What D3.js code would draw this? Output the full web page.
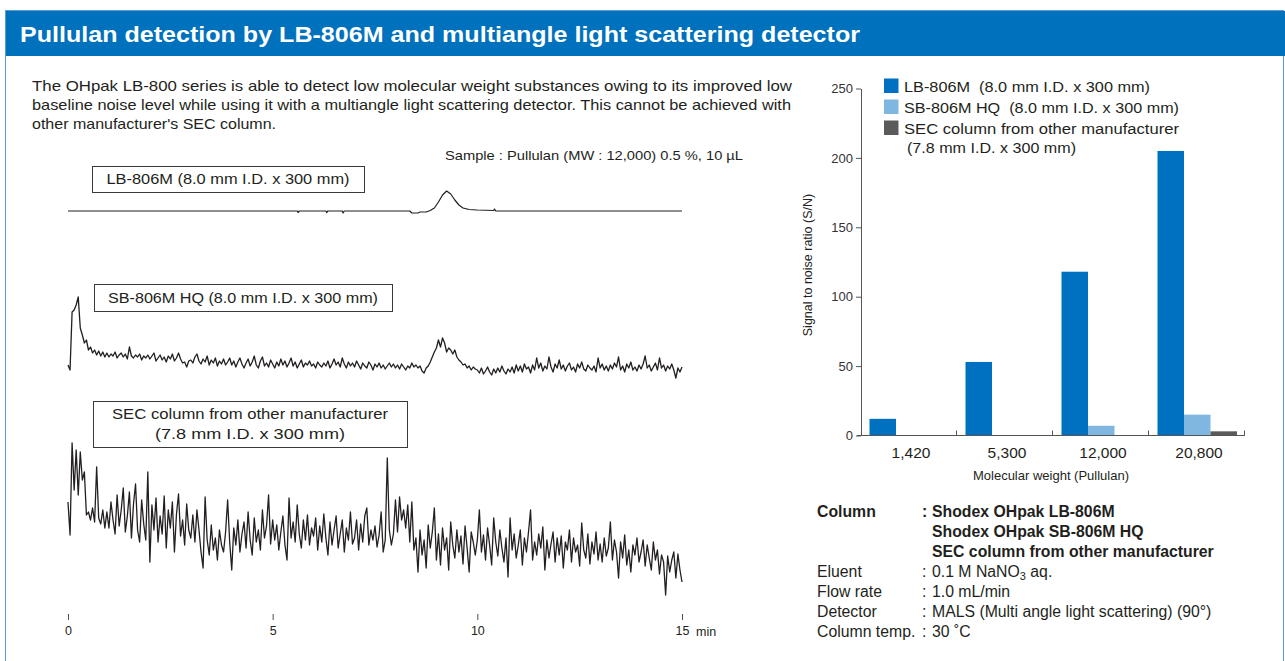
<!DOCTYPE html>
<html><head><meta charset="utf-8">
<script src="https://cdn.jsdelivr.net/npm/d3@7"></script>
<style>
html,body{margin:0;padding:0;background:#fff;}
svg{display:block;font-family:"Liberation Sans",Arial,Helvetica,sans-serif;}
</style>
</head><body>
<svg id="c" width="1285" height="661"></svg>
<script>
// ---------------- DATA ----------------
const titleText = "Pullulan detection by LB-806M and multiangle light scattering detector";
const paragraphLines = [
  "The OHpak LB-800 series is able to detect low molecular weight substances owing to its improved low",
  "baseline noise level while using it with a multiangle light scattering detector. This cannot be achieved with",
  "other manufacturer's SEC column."
];
const sampleText = "Sample : Pullulan (MW : 12,000) 0.5 %, 10 µL";
const lbLabel = ["LB-806M (8.0 mm I.D. x 300 mm)"];
const sbLabel = ["SB-806M HQ (8.0 mm I.D. x 300 mm)"];
const secLabel = ["SEC column from other manufacturer", "(7.8 mm I.D. x 300 mm)"];
const timeTicks = [0, 5, 10, 15];
const timeUnit = "min";

// LB-806M trace (time in min, relative intensity)
const lbTimes  = [0, 5.6, 5.62, 5.65, 6.3, 6.32, 6.35, 6.7, 6.72, 6.75, 8.35, 8.4, 8.55, 8.6, 8.75, 8.85, 8.95, 9.05, 9.15, 9.25, 9.35, 9.45, 9.55, 9.65, 9.8, 10.0, 10.4, 10.42, 10.45, 15];
const lbValues = [0, 0, -1.5, 0, 0, -1.5, 0, 0, -2, 0, 0, -2, -2, -1, -1, 0.5, 3, 9, 16, 20, 17, 11, 6, 3, 1.5, 1, 0.5, 2, 0, 0];

const noiseStep = 0.05;
// SB-806M HQ trace, relative intensity, one value every 0.05 min from 0 to 15 min
const sbValues = [
  15, 10, 68, 70, 75, 83, 52, 45, 37, 40, 30, 33, 27, 30, 25, 29, 24, 28, 23, 27,
  23, 26, 24, 28, 22, 25, 27, 23, 26, 21, 33, 24, 22, 25, 23, 26, 20, 24, 22, 25,
  21, 24, 27, 19, 22, 25, 20, 23, 18, 24, 21, 26, 19, 22, 27, 21, 17, 18, 13, 19,
  20, 17, 23, 26, 19, 16, 21, 18, 24, 15, 20, 17, 22, 14, 19, 16, 21, 15, 18, 22,
  15, 19, 13, 18, 22, 16, 12, 17, 21, 14, 18, 24, 15, 12, 19, 23, 14, 17, 13, 20,
  16, 12, 18, 14, 21, 15, 19, 13, 17, 22, 14, 18, 12, 16, 20, 13, 17, 15, 19, 14,
  16, 12, 18, 15, 13, 17, 14, 19, 12, 16, 21, 15, 18, 13, 22, 16, 12, 18, 14, 17,
  13, 19, 15, 11, 17, 14, 12, 18, 15, 10, 16, 13, 17, 12, 15, 11, 14, 17, 13, 16,
  12, 15, 11, 16, 13, 10, 14, 12, 17, 13, 15, 12, 14, 9, 7, 12, 14, 18, 23, 28,
  32, 40, 33, 42, 37, 28, 32, 30, 26, 30, 23, 20, 18, 15, 16, 12, 14, 10, 13, 11,
  10, 7, 12, 6, 9, 13, 8, 5, 11, 7, 12, 8, 14, 9, 6, 11, 8, 13, 7, 15,
  9, 14, 8, 16, 11, 13, 7, 15, 10, 22, 12, 17, 9, 14, 11, 23, 13, 8, 16, 12,
  20, 11, 15, 9, 14, 17, 10, 13, 8, 16, 12, 18, 11, 9, 15, 12, 10, 14, 8, 22,
  12, 16, 10, 14, 9, 15, 11, 17, 13, 23, 10, 14, 8, 16, 12, 18, 10, 13, 9, 15,
  11, 16, 24, 12, 15, 9, 13, 17, 10, 22, 12, 15, 9, 14, 11, 16, 10, 2, 12, 8,
  13
];
// SEC column from other manufacturer, relative intensity, every 0.05 min
const secValues = [
  98, 65, 157, 110, 150, 105, 148, 120, 128, 85, 88, 80, 92, 78, 133, 82, 76, 90, 72, 88,
  72, 98, 80, 66, 105, 74, 90, 112, 68, 84, 108, 62, 96, 116, 70, 58, 100, 76, 60, 128,
  38, 95, 70, 102, 58, 84, 66, 104, 52, 90, 72, 98, 48, 86, 106, 64, 80, 55, 96, 70,
  62, 85, 58, 90, 70, 48, 32, 103, 60, 45, 75, 50, 62, 40, 70, 55, 48, 68, 100, 58,
  30, 72, 55, 80, 48, 66, 78, 52, 88, 60, 45, 82, 58, 70, 50, 90, 62, 74, 105, 56,
  80, 60, 75, 50, 68, 84, 55, 40, 102, 62, 78, 58, 95, 66, 52, 80, 60, 85, 55, 72,
  64, 82, 50, 74, 58, 86, 62, 45, 78, 55, 70, 84, 52, 66, 80, 48, 72, 60, 88, 56,
  62, 80, 50, 76, 58, 84, 92, 55, 70, 60, 74, 53, 65, 88, 48, 60, 142, 70, 55, 66,
  100, 68, 103, 80, 90, 72, 95, 58, 98, 50, 62, 28, 70, 45, 60, 32, 75, 52, 68, 92,
  40, 66, 35, 72, 50, 62, 30, 78, 55, 42, 70, 48, 64, 36, 74, 52, 28, 68, 58, 45,
  60, 90, 48, 65, 40, 72, 55, 35, 82, 58, 44, 70, 52, 38, 62, 23, 82, 50, 66, 42,
  55, 70, 35, 62, 48, 68, 90, 40, 58, 45, 66, 52, 73, 30, 60, 42, 56, 68, 38, 62,
  45, 64, 32, 58, 50, 70, 38, 62, 48, 55, 34, 77, 50, 42, 66, 36, 58, 46, 68, 40,
  56, 38, 62, 44, 52, 78, 40, 60, 48, 22, 58, 42, 65, 35, 50, 28, 55, 45, 62, 38,
  48, 60, 34, 55, 42, 30, 58, 40, 50, 26, 45, 38, 5, 44, 28, 40, 48, 22, 46, 30,
  18
];

// Bar chart: signal to noise ratio
const categories = ["1,420", "5,300", "12,000", "20,800"];
const seriesKeys = ["LB", "SB", "SEC"];
const legendLabels = ["LB-806M  (8.0 mm I.D. x 300 mm)", "SB-806M HQ  (8.0 mm I.D. x 300 mm)", "SEC column from other manufacturer"];
const legendSubLabel = "(7.8 mm I.D. x 300 mm)";
const lbSN  = [12, 53, 118, 205];
const sbSN  = [0, 0, 7, 15];
const secSN = [0, 0, 0, 3];
const snTicks = [0, 50, 100, 150, 200, 250];
const yTitle = "Signal to noise ratio (S/N)";
const xTitle = "Molecular weight (Pullulan)";

// Conditions
const condLabels = ["Column", "", "", "Eluent", "Flow rate", "Detector", "Column temp."];
const condValues = ["Shodex OHpak LB-806M", "Shodex OHpak SB-806M HQ", "SEC column from other manufacturer",
                    "0.1 M NaNO_3_ aq.", "1.0 mL/min", "MALS (Multi angle light scattering) (90°)", "30 ˚C"];
const condBold = [true, true, true, false, false, false, false];

// ---------------- DRAW ----------------
const ink = "#231f20";
const blue = "#0071bc";
const colors = {LB: "#0071c1", SB: "#7fb7e0", SEC: "#5a5a5a"};
const svg = d3.select("#c");

// frame + header
svg.append("rect").attr("x", 5.5).attr("y", 10.5).attr("width", 1278).attr("height", 700)
  .attr("fill", "none").attr("stroke", "#5a9ad6").attr("stroke-width", 1);
svg.append("rect").attr("x", 6).attr("y", 11).attr("width", 1279).attr("height", 45).attr("fill", blue);
svg.append("text").attr("x", 20).attr("y", 42).text(titleText)
  .attr("fill", "#fff").attr("font-weight", "bold").attr("font-size", 21.5)
  .attr("textLength", 840).attr("lengthAdjust", "spacingAndGlyphs");

// paragraph
const paraY = [91, 110, 128.5], paraW = [760, 759, 244];
svg.append("g").selectAll("text").data(paragraphLines).join("text")
  .attr("x", 32).attr("y", (d, i) => paraY[i]).text(d => d)
  .attr("fill", ink).attr("font-size", 14.5)
  .attr("textLength", (d, i) => paraW[i]).attr("lengthAdjust", "spacingAndGlyphs");

svg.append("text").attr("x", 445).attr("y", 160).text(sampleText)
  .attr("fill", ink).attr("font-size", 13.5).attr("textLength", 298).attr("lengthAdjust", "spacingAndGlyphs");

// chromatograms
const xT = d3.scaleLinear().domain([0, 15]).range([68, 682]);
const yLB = d3.scaleLinear().domain([0, 20]).range([211, 191]);
const ySB = d3.scaleLinear().domain([0, 100]).range([380, 280]);
const ySEC = d3.scaleLinear().domain([0, 100]).range([600, 500]);

const lbData = lbTimes.map((t, i) => [t, lbValues[i]]);
const sbData = sbValues.map((v, i) => [i * noiseStep, v]);
const secData = secValues.map((v, i) => [i * noiseStep, v]);

function trace(data, ys, w) {
  svg.append("path").datum(data)
    .attr("d", d3.line().x(d => xT(d[0])).y(d => ys(d[1])))
    .attr("fill", "none").attr("stroke", ink).attr("stroke-width", w).attr("stroke-linejoin", "round");
}
trace(lbData, yLB, 1.2);
trace(sbData, ySB, 1.3);
trace(secData, ySEC, 1.3);

function labelBox(lines, x, y, w, h, widths) {
  const g = svg.append("g");
  g.append("rect").attr("x", x + 0.5).attr("y", y + 0.5).attr("width", w).attr("height", h)
    .attr("fill", "#fff").attr("stroke", "#3a3a3a").attr("stroke-width", 1);
  const n = lines.length;
  g.selectAll("text").data(lines).join("text")
    .attr("x", x + w / 2).attr("y", (d, i) => y + h / 2 + 5 + (i - (n - 1) / 2) * 20)
    .attr("text-anchor", "middle").attr("fill", ink).attr("font-size", 14.5).text(d => d)
    .attr("textLength", (d, i) => widths[i]).attr("lengthAdjust", "spacingAndGlyphs");
}
labelBox(lbLabel, 92, 166, 272, 26, [243]);
labelBox(sbLabel, 94, 284, 298, 27, [270]);
labelBox(secLabel, 93, 401, 314, 46, [276, 190]);

// time axis
const tAxis = d3.axisBottom(xT).tickValues(timeTicks).tickSize(6).tickPadding(6).tickFormat(d3.format("d"));
const gT = svg.append("g").attr("transform", "translate(0,614)").call(tAxis);
gT.select(".domain").remove();
gT.selectAll("line").attr("stroke", ink).attr("stroke-width", 0.8);
gT.selectAll("text").attr("font-size", 12.5).attr("fill", ink).attr("font-family", null);
svg.append("text").attr("x", xT(15) + 14).attr("y", 635.5).text(timeUnit)
  .attr("font-size", 12.5).attr("fill", ink);

// bar chart
const x0 = d3.scaleBand().domain(categories).range([861, 1245]).padding(0);
const x1 = d3.scaleBand().domain(seriesKeys).range([8.5, 88]).padding(0);
const ySN = d3.scaleLinear().domain([0, 250]).range([435.5, 88.5]);
const snSeries = {LB: lbSN, SB: sbSN, SEC: secSN};

const barRows = categories.map((c, i) => ({cat: c, vals: seriesKeys.map(k => ({key: k, value: snSeries[k][i]}))}));
svg.append("g").selectAll("g").data(barRows).join("g")
  .attr("transform", d => `translate(${x0(d.cat)},0)`)
  .selectAll("rect").data(d => d.vals.filter(v => v.value > 0)).join("rect")
  .attr("x", d => x1(d.key)).attr("width", x1.bandwidth())
  .attr("y", d => ySN(d.value)).attr("height", d => ySN(0) - ySN(d.value))
  .attr("fill", d => colors[d.key]);

const yAx = d3.axisLeft(ySN).tickValues(snTicks).tickSize(5).tickSizeOuter(0).tickPadding(3);
const gY = svg.append("g").attr("transform", "translate(861,0)").call(yAx);
gY.select(".domain").attr("stroke", "#555");
gY.selectAll("line").attr("stroke", "#555");
gY.selectAll("text").attr("font-size", 13).attr("fill", "#333").attr("font-family", null);

// x axis line + group boundary ticks
svg.append("line").attr("x1", 857).attr("x2", 1245).attr("y1", 435.5).attr("y2", 435.5).attr("stroke", "#555");
svg.append("g").selectAll("line").data(categories).join("line")
  .attr("x1", d => x0(d) + x0.bandwidth() - 0.5).attr("x2", d => x0(d) + x0.bandwidth() - 0.5)
  .attr("y1", 435.5).attr("y2", 430.5).attr("stroke", "#555");
const xAx = d3.axisBottom(x0).tickSize(0).tickPadding(11);
const gX = svg.append("g").attr("transform", "translate(2,435.5)").call(xAx);
gX.select(".domain").remove();
gX.selectAll("text").attr("font-size", 15.5).attr("fill", ink).attr("font-family", null);

svg.append("text").attr("transform", "translate(812,265) rotate(-90)").attr("text-anchor", "middle")
  .text(yTitle).attr("font-size", 12.5).attr("fill", ink);
svg.append("text").attr("x", 1051).attr("y", 480).attr("text-anchor", "middle")
  .text(xTitle).attr("font-size", 13).attr("fill", ink);

// legend
const legY = [78.5, 99.5, 120.5];
const legW = [246, 275, 275];
const gL = svg.append("g");
gL.selectAll("rect").data(seriesKeys).join("rect")
  .attr("x", 884).attr("y", (d, i) => legY[i]).attr("width", 14.5).attr("height", 14.5)
  .attr("fill", d => colors[d]);
gL.selectAll("text").data(legendLabels).join("text")
  .attr("x", 904).attr("y", (d, i) => legY[i] + 13.5).text(d => d)
  .style("white-space", "pre").attr("font-size", 15.5).attr("fill", ink)
  .attr("textLength", (d, i) => legW[i]).attr("lengthAdjust", "spacingAndGlyphs");
svg.append("text").attr("x", 907).attr("y", 153).text(legendSubLabel)
  .attr("font-size", 15.5).attr("fill", ink).attr("textLength", 169).attr("lengthAdjust", "spacingAndGlyphs");

// conditions
const condY0 = 517, condDy = 20;
const gC = svg.append("g").attr("fill", ink).attr("font-size", 15.8);
condLabels.forEach((lab, i) => {
  const y = condY0 + i * condDy;
  const fw = condBold[i] ? "bold" : "normal";
  if (lab) {
    gC.append("text").attr("x", 817).attr("y", y).attr("font-weight", fw).text(lab);
    gC.append("text").attr("x", 922).attr("y", y).attr("font-weight", fw).text(":");
  }
  const t = gC.append("text").attr("x", 932).attr("y", y).attr("font-weight", fw);
  const parts = condValues[i].split("_");
  parts.forEach((p, j) => {
    const ts = t.append("tspan").text(p);
    if (j % 2 === 1) ts.attr("font-size", 11).attr("dy", 3);
    else if (j > 0) ts.attr("dy", -3);
  });
});
</script>
</body></html>
